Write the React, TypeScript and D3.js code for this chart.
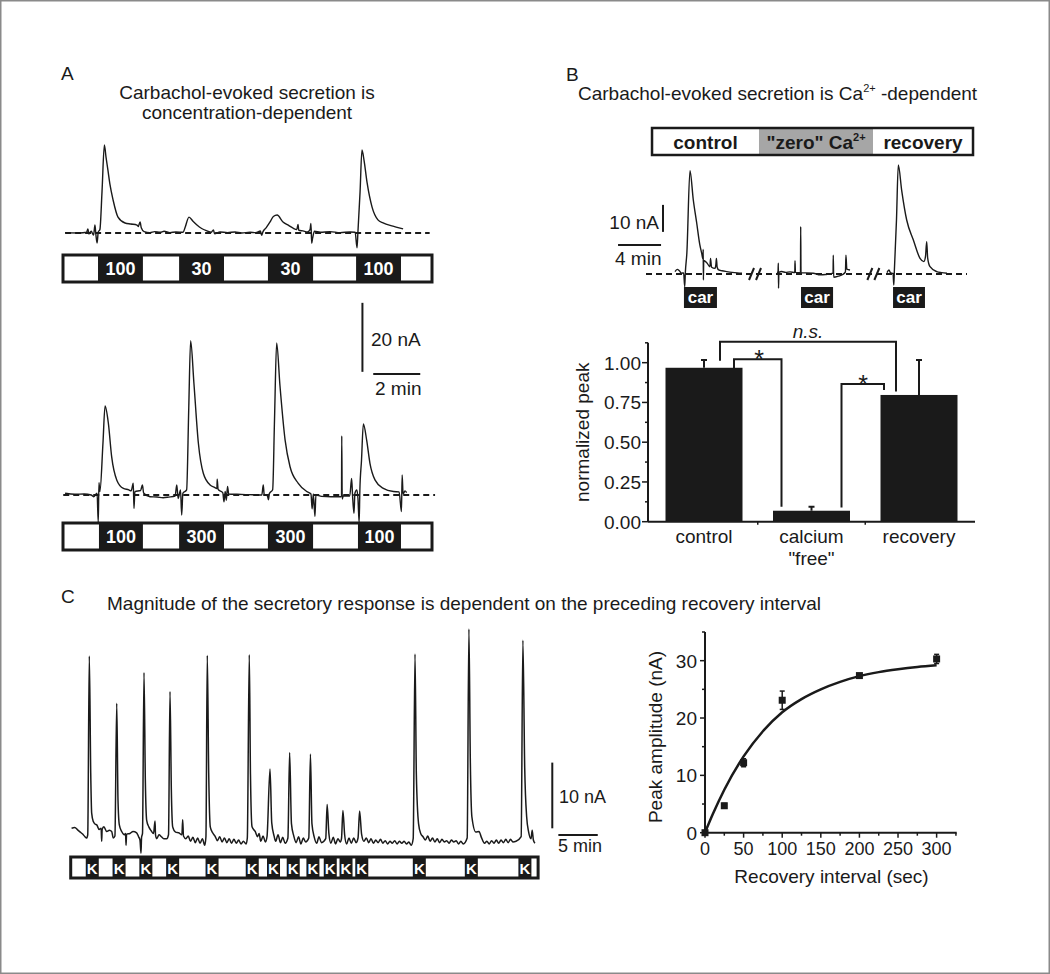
import React from 'react';
import * as d3 from 'd3';

const FONT = "'Liberation Sans', Arial, Helvetica, sans-serif";
const INK = '#1a1a1a';

// ---------------- Panel A data (time in min, current in nA) ----------------
const concTop = [
  { label: '100', start: 1.49, end: 3.4 },
  { label: '30', start: 4.94, end: 6.85 },
  { label: '30', start: 8.72, end: 10.64 },
  { label: '100', start: 12.47, end: 14.38 },
];
const concBottom = [
  { label: '100', start: 1.53, end: 3.4 },
  { label: '300', start: 4.94, end: 6.85 },
  { label: '300', start: 8.72, end: 10.64 },
  { label: '100', start: 12.55, end: 14.38 },
];
const traceATop: [number, number][] = [
  [0.09, 0.1], [0.7, 0.0], [1.0, 0.2], [1.06, 1.2], [1.1, -0.3], [1.2, 0.5], [1.3, -0.6], [1.36, 2.3], [1.4, -0.5],
  [1.45, -2.9], [1.5, 0.3], [1.57, 1.0], [1.66, 12], [1.76, 25.5], [1.83, 22], [1.91, 18.3], [2.0, 14], [2.13, 9.6],
  [2.34, 4.6], [2.64, 2.9], [2.89, 2.6], [3.15, 2.3], [3.2, 1.9], [3.28, 3.2], [3.33, 1.5], [3.45, 0.4], [3.7, 0.1],
  [3.9, 0.4], [4.13, 0.2], [4.3, 0.5], [4.55, 0.1], [4.8, 0.3], [5.11, 0.2], [5.19, 1.5], [5.36, 4.6], [5.53, 3.4],
  [5.7, 2.3], [5.9, 1.3], [6.13, 0.6], [6.3, 0.2], [6.4, 0.9], [6.45, -0.2], [6.68, 0.3], [7.0, 0.1], [7.32, 0.3],
  [7.6, 0.0], [7.96, 0.2], [8.2, 0.1], [8.4, 0.6], [8.45, -0.7], [8.51, 0.4], [8.64, 1.5], [8.81, 3.2], [8.95, 4.8],
  [9.11, 5.2], [9.36, 3.2], [9.6, 2.2], [9.79, 1.4], [9.95, 1.0], [10.0, 2.5], [10.03, 0.8], [10.21, 0.6], [10.4, 0.3],
  [10.51, 1.0], [10.55, 2.8], [10.58, -3.0], [10.62, -1.5], [10.7, 0.5], [10.94, 0.2], [11.36, 0.4], [11.79, 0.1],
  [12.21, 0.3], [12.43, 0.2], [12.51, -4.3], [12.55, 0.5], [12.64, 12], [12.72, 24.1], [12.81, 21], [12.94, 14.5],
  [13.15, 7.5], [13.4, 3.8], [13.62, 2.9], [14.04, 2.0], [14.3, 1.5], [14.47, 1.2],
];
const traceABottom: [number, number][] = [
  [0.09, 0.5], [0.5, 0.2], [0.9, 0.3], [1.2, 0.0], [1.3, -0.5], [1.45, 0.5], [1.5, -8.0], [1.53, 3.6], [1.57, 1.0],
  [1.7, 15], [1.79, 25.8], [1.93, 20.8], [2.07, 11.1], [2.29, 4.3], [2.57, 1.9], [2.8, 1.5], [2.9, 1.2], [2.99, 3.4],
  [3.02, -3.9], [3.06, 1.0], [3.3, 1.3], [3.38, 2.9], [3.43, 0.6], [3.7, -0.5], [4.0, -0.6], [4.26, -0.8], [4.5, -0.6],
  [4.77, -0.3], [4.84, 2.9], [4.9, -1.0], [5.0, 1.5], [5.05, -5.8], [5.1, 0.5], [5.26, 1.5], [5.35, 25], [5.43, 44.7],
  [5.57, 32.4], [5.76, 15.0], [5.97, 6.3], [6.26, 2.9], [6.45, 2.2], [6.55, 1.9], [6.56, 4.6], [6.6, 1.6], [6.8, 0.6],
  [6.85, -2.0], [6.9, 1.0], [6.95, -1.5], [7.0, 2.5], [7.05, 0.3], [7.4, 0.2], [7.9, 0.1], [8.46, 0.0], [8.52, 2.9],
  [8.56, 0.2], [8.7, -0.3], [8.74, -1.4], [8.78, 0.4], [8.92, 1.5], [9.0, 22], [9.09, 44.1], [9.23, 31.8], [9.45, 15.9],
  [9.66, 8.2], [10.01, 3.4], [10.37, 1.0], [10.55, 0.3], [10.6, -4.0], [10.65, 0.3], [10.72, -6.2], [10.76, 0.0],
  [11.0, -0.4], [11.4, -0.5], [11.8, -0.5], [11.85, -0.5], [11.86, 17.1], [11.88, -1.2], [11.92, -0.3], [12.2, -0.3],
  [12.28, 4.8], [12.32, -0.2], [12.38, -5.3], [12.42, 0.5], [12.5, 1.5], [12.55, -1.0], [12.6, -8.0], [12.63, 1.2],
  [12.7, 10], [12.78, 20.6], [12.92, 15.9], [13.06, 9.2], [13.28, 4.3], [13.63, 1.9], [14.06, 1.0], [14.3, 0.9],
  [14.4, -4.8], [14.43, 5.8], [14.47, 0.3], [14.55, 1.2], [14.62, 0.7],
];

// ---------------- Panel B data ----------------
const conditions = [
  { label: 'control', sup: '', start: 0.56, end: 10.51, fill: '#ffffff' },
  { label: '"zero" Ca', sup: '2+', start: 10.51, end: 21.12, fill: '#a6a6a6' },
  { label: 'recovery', sup: '', start: 21.12, end: 30.42, fill: '#ffffff' },
];
const carApplications = [
  { start: 3.53, end: 6.6 },
  { start: 14.42, end: 17.4 },
  { start: 22.98, end: 25.95 },
];
const traceBSegments: [number, number][][] = [
  [[2.7, 0.85], [2.9, 1.7], [3.1, 1.2], [3.3, 0.3], [3.5, 0.4], [3.6, -4.7], [3.66, 0.6], [3.8, 7.7], [4.09, 38.3],
   [4.4, 27.4], [4.72, 18.8], [5.0, 11], [5.18, 7.7], [5.3, 5.5], [5.32, 9.1], [5.34, -2.2], [5.37, 5.0], [5.65, 4.2],
   [5.95, 2.7], [6.0, 5.8], [6.1, 2.5], [6.42, 2.1], [6.5, 3.5], [6.55, 5.8], [6.62, 2.5], [6.76, 1.5], [7.07, 1.2],
   [7.5, 0.9], [8.0, 0.6], [8.5, 0.4], [8.93, 0.3]],
  [[12.19, 0.5], [12.28, 0.8], [12.31, 4.0], [12.33, -5.3], [12.36, 0.6], [12.62, 0.9], [13.0, 0.6], [13.4, 0.8],
   [13.84, 0.5], [13.86, 4.9], [13.9, 0.6], [14.37, 0.5], [14.39, 17.5], [14.42, 0.4], [14.9, 0.4], [15.56, 0.3],
   [16.2, -0.3], [16.7, -0.2], [17.4, 0.3], [17.42, 7.0], [17.46, -1.2], [17.9, -0.8], [18.3, -0.2], [18.55, 0.8],
   [18.6, 7.0], [18.68, 1.8], [18.98, 1.5]],
  [[22.42, 0.5], [22.6, 1.5], [22.75, 0.4], [22.98, 0.2], [23.05, -4.1], [23.1, 1.0], [23.3, 20], [23.47, 40.4],
   [23.78, 31.1], [24.25, 20.0], [24.87, 12.6], [25.49, 5.8], [25.85, 4.6], [26.0, 6.5], [26.11, 12.0], [26.2, 6],
   [26.42, 2.7], [27.04, 0.9], [27.5, 0.5], [28.0, 0.3]],
];
const breakTimes = [10.14, 21.15];

const barCategories = ['control', 'calcium "free"', 'recovery'];
const barValues = [0.968, 0.069, 0.797];
const barErrors = [0.049, 0.025, 0.22];
const barTicks = [0, 0.125, 0.25, 0.375, 0.5, 0.625, 0.75, 0.875, 1.0, 1.125];

// ---------------- Panel C data ----------------
const kStarts = [2.0, 5.4, 8.8, 12.2, 17.2, 22.3, 25.0, 27.5, 30.0, 32.2, 34.2, 36.2, 43.5, 50.1, 56.9];
const kDuration = 1.65;
const traceC: [number, number][] = [
  [0.2, 1.8], [0.6, 1.9], [1.0, 1.5], [1.3, 1.2], [1.6, 0.9], [1.9, 0.5], [2.1, 0.3],
  [2.25, 0.8], [2.45, 28.0], [2.63, 10.2], [2.75, 4.1], [2.96, 2.8], [3.2, 2.4], [3.39, 2.3], [3.7, 1.6], [3.95, 1.8],
  [4.02, -0.2], [4.08, 1.6], [4.3, 2.0], [4.66, 1.3], [5.0, 1.5], [5.29, 1.3], [5.49, 0.3],
  [5.7, 0.6], [5.93, 20.8], [6.09, 6.1], [6.26, 2.3], [6.56, 1.3], [6.9, 0.8], [7.05, 1.0], [7.11, -0.8], [7.18, 0.9],
  [7.6, 1.0], [8.0, 1.3], [8.46, 1.1], [8.7, 0.5], [8.88, 0], [9.01, -2.0], [9.08, 0.4],
  [9.2, 1.0], [9.39, 25.5], [9.56, 9.1], [9.73, 3.0], [10.0, 2.0], [10.3, 1.4], [10.6, 1.0], [10.79, 2.9], [10.85, 0.8],
  [11.0, 0.2], [11.3, 0.8], [11.6, 0.5], [11.9, 0.2], [12.27, 0.2],
  [12.5, 0.8], [12.69, 22.6], [12.86, 7.6], [13.03, 2.0], [13.4, 1.2], [13.8, 1.1], [14.2, 0.8], [14.3, 3.1], [14.4, 0.6],
  [14.7, 0.2], [15.0, 0.6], [15.3, -0.2], [15.6, 0.4], [15.9, -0.4], [16.2, 0.3], [16.5, -0.5], [16.8, 0.2], [17.1, -0.8],
  [17.25, 0.5], [17.42, 28.1], [17.6, 10.2], [17.8, 2.0], [18.1, 1.1], [18.4, 0.6], [18.7, -0.1], [19.0, 0.5], [19.3, -0.3],
  [19.6, 0.3], [19.9, -0.4], [20.2, 0.2], [20.5, -0.5], [20.8, 0.1], [21.1, -0.5], [21.4, 0.0], [21.7, -0.6], [22.0, -0.2],
  [22.35, -0.6],
  [22.5, 0.3], [22.75, 28.2], [22.9, 10.0], [23.1, 2.0], [23.5, 1.3], [23.8, 0.5], [24.0, 1.0], [24.2, -0.2], [24.5, 0.6],
  [24.8, -0.3],
  [25.0, 0.5], [25.38, 10.8], [25.6, 2.6], [25.9, 0.6], [26.1, -0.2], [26.4, 0.8], [26.7, -0.4], [27.0, 0.4], [27.3, -0.5],
  [27.65, 0.3], [27.87, 13.3], [28.1, 2.5], [28.4, 0.6], [28.7, -0.4], [29.0, 0.5], [29.3, -0.6], [29.6, 0.3], [29.9, -0.3],
  [30.3, 0.3], [30.51, 13.1], [30.7, 2.5], [31.0, 0.4], [31.3, -0.5], [31.6, 0.5], [31.9, -0.4],
  [32.45, 0.2], [32.63, 5.4], [32.85, 1.0], [33.1, -0.5], [33.4, 0.4], [33.7, -0.6], [34.0, 0.2], [34.3, -0.3],
  [34.45, 0.2], [34.63, 4.5], [34.85, 0.8], [35.1, -0.6], [35.4, 0.3], [35.7, -0.5], [36.0, 0.3], [36.3, -0.4],
  [36.55, 0.3], [36.75, 4.4], [37.0, 0.9], [37.3, -0.2], [37.6, 0.3], [37.9, -0.4], [38.2, 0.2], [38.5, -0.5], [38.8, 0.0],
  [39.1, -0.4], [39.4, 0.1], [39.7, -0.5], [40.0, -0.1], [40.3, -0.6], [40.6, -0.2], [40.9, -0.5], [41.2, -0.1],
  [41.5, -0.6], [41.8, -0.2], [42.1, -0.5], [42.4, -0.2], [42.7, -0.6], [43.0, -0.3], [43.3, -0.8],
  [43.55, 0.2], [43.78, 28.3], [43.95, 10.0], [44.23, 2.5], [44.5, 1.0], [44.8, 0.5], [45.1, 0.0], [45.4, 0.6],
  [45.7, -0.2], [46.0, 0.3], [46.3, -0.3], [46.6, 0.2], [46.9, -0.4], [47.2, 0.1], [47.5, -0.3], [47.8, -0.1],
  [48.1, -0.5], [48.4, 0.0], [48.7, -0.3], [49.0, -0.1], [49.3, -0.6], [49.6, -0.2], [49.9, -0.6],
  [50.4, 0.3], [50.62, 32.1], [50.8, 12.0], [51.0, 3.5], [51.5, 1.2], [51.9, 1.3], [52.2, 0.4], [52.6, -0.5],
  [52.9, -0.2], [53.2, -0.6], [53.5, -0.1], [53.8, -0.5], [54.1, 0.0], [54.4, -0.5], [54.7, 0.0], [55.0, -0.4],
  [55.3, 0.1], [55.6, -0.4], [55.9, 0.1], [56.2, -0.3], [56.6, -0.2],
  [57.25, 0.5], [57.47, 30.4], [57.7, 11.0], [57.95, 3.5], [58.2, 1.2], [58.5, 0.2], [58.65, 1.5], [58.8, 0.0], [59.0, -0.5],
];

const recoveryInterval = [0, 25, 50, 100, 200, 300];
const peakAmplitude = [0, 4.7, 12.2, 23.1, 27.4, 30.3];
const peakError = [0, 0.4, 0.7, 1.6, 0.3, 0.8];
const fitInterval = [0, 10, 25, 50, 75, 100, 125, 150, 175, 200, 225, 250, 275, 300];
const fitAmplitude = [0, 3.2, 7.5, 13.3, 17.7, 21.0, 23.3, 25.0, 26.3, 27.3, 28.0, 28.5, 28.9, 29.2];
const xTicksS = [0, 25, 50, 75, 100, 125, 150, 175, 200, 225, 250, 275, 300, 325];
const yTicksS = [0, 5, 10, 15, 20, 25, 30, 35];

export default function App() {
  // scales
  const xA = d3.scaleLinear().domain([0, 15.7]).range([63, 432]);
  const yATop = d3.scaleLinear().domain([0, 20]).range([233, 164]);
  const yABot = d3.scaleLinear().domain([0, 20]).range([495, 426]);

  const xB = d3.scaleLinear().domain([0, 29.86]).range([646, 967]);
  const yB = d3.scaleLinear().domain([0, 10]).range([274, 247]);

  const xBar = d3.scalePoint<string>().domain(barCategories).range([704, 919]);
  const yBar = d3.scaleLinear().domain([0, 1.125]).range([521.7, 342.8]);
  const barW = 77;

  const xC = d3.scaleLinear().domain([0, 59.26]).range([70, 537]);
  const yC = d3.scaleLinear().domain([0, 10]).range([840, 774.3]);

  const xS = d3.scaleLinear().domain([0, 326]).range([705, 956.7]);
  const yS = d3.scaleLinear().domain([0, 35]).range([832.7, 632]);

  const lineA = (ys: d3.ScaleLinear<number, number>) =>
    d3.line<[number, number]>().x((d) => xA(d[0])).y((d) => ys(d[1])).curve(d3.curveMonotoneX);
  const lineB = d3.line<[number, number]>().x((d) => xB(d[0])).y((d) => yB(d[1])).curve(d3.curveMonotoneX);
  const lineC = d3.line<[number, number]>().x((d) => xC(d[0])).y((d) => yC(d[1])).curve(d3.curveMonotoneX);
  const fitLine = d3
    .line<number>()
    .x((d) => xS(d))
    .y((_, i) => yS(fitAmplitude[i]))
    .curve(d3.curveMonotoneX);

  const stimBar = (
    blocks: { label: string; start: number; end: number }[],
    y0: number,
    y1: number,
    key: string
  ) => (
    <g key={key}>
      <rect x={xA(0)} y={y0} width={xA(15.7) - xA(0)} height={y1 - y0} fill="#fff" stroke={INK} strokeWidth={3} />
      {blocks.map((b, i) => (
        <g key={i}>
          <rect x={xA(b.start)} y={y0} width={xA(b.end) - xA(b.start)} height={y1 - y0} fill={INK} />
          <text
            x={(xA(b.start) + xA(b.end)) / 2}
            y={(y0 + y1) / 2 + 6.5}
            textAnchor="middle"
            fill="#fff"
            fontWeight="bold"
            fontSize={18}
          >
            {b.label}
          </text>
        </g>
      ))}
    </g>
  );

  const cx = barCategories.map((c) => xBar(c) as number);

  return (
    <div style={{ position: 'absolute', left: 0, top: 0 }}>
      <svg width={1050} height={974} style={{ display: 'block', fontFamily: FONT }}>
        <rect x={0} y={0} width={1050} height={974} fill="#fff" />
        <rect x={0.75} y={0.75} width={1048.5} height={972.5} fill="none" stroke="#8a8a8a" strokeWidth={1.5} />

        {/* ================= Panel A ================= */}
        <text x={61} y={80} fontSize={19} fill={INK}>A</text>
        <text x={247} y={99} fontSize={19} textAnchor="middle" fill={INK}>Carbachol-evoked secretion is</text>
        <text x={247} y={119} fontSize={19} textAnchor="middle" fill={INK}>concentration-dependent</text>

        <line x1={xA(0.09)} x2={xA(15.6)} y1={yATop(0)} y2={yATop(0)} stroke={INK} strokeWidth={2} strokeDasharray="6,4" />
        <path d={lineA(yATop)(traceATop) || ''} fill="none" stroke={INK} strokeWidth={1.4} strokeLinejoin="round" />
        {stimBar(concTop, 255, 282, 'top')}

        <line x1={xA(0.01)} x2={xA(15.83)} y1={yABot(0)} y2={yABot(0)} stroke={INK} strokeWidth={2} strokeDasharray="6,4" />
        <path d={lineA(yABot)(traceABottom) || ''} fill="none" stroke={INK} strokeWidth={1.4} strokeLinejoin="round" />
        {stimBar(concBottom, 523, 550, 'bot')}

        {/* scale bar A */}
        <line x1={xA(12.74)} x2={xA(12.74)} y1={yABot(35.7)} y2={yABot(55.7)} stroke={INK} strokeWidth={2} />
        <line x1={xA(13.2)} x2={xA(15.2)} y1={yABot(35.1)} y2={yABot(35.1)} stroke={INK} strokeWidth={2} />
        <text x={371} y={346} fontSize={19} fill={INK}>20 nA</text>
        <text x={375} y={395} fontSize={19} fill={INK}>2 min</text>

        {/* ================= Panel B ================= */}
        <text x={566} y={81} fontSize={19} fill={INK}>B</text>
        <text x={578} y={100} fontSize={19} fill={INK}>
          Carbachol-evoked secretion is Ca<tspan dy={-8} fontSize={11}>2+</tspan>
          <tspan dy={8}> -dependent</tspan>
        </text>

        {conditions.map((c, i) => (
          <g key={i}>
            <rect x={xB(c.start)} y={128} width={xB(c.end) - xB(c.start)} height={27} fill={c.fill} />
            <text x={(xB(c.start) + xB(c.end)) / 2} y={148.5} textAnchor="middle" fontWeight="bold" fontSize={19} fill={INK}>
              {c.label}
              {c.sup ? <tspan dy={-8} fontSize={11}>{c.sup}</tspan> : null}
            </text>
          </g>
        ))}
        <rect
          x={xB(conditions[0].start)}
          y={128}
          width={xB(conditions[2].end) - xB(conditions[0].start)}
          height={27}
          fill="none"
          stroke={INK}
          strokeWidth={2.5}
        />

        <line x1={xB(0)} x2={xB(29.86)} y1={yB(0)} y2={yB(0)} stroke={INK} strokeWidth={2} strokeDasharray="6,4" />
        {traceBSegments.map((seg, i) => (
          <path key={i} d={lineB(seg) || ''} fill="none" stroke={INK} strokeWidth={1.4} strokeLinejoin="round" />
        ))}
        {breakTimes.map((t, i) => (
          <g key={i}>
            <line x1={xB(t) - 6} x2={xB(t) - 1} y1={yB(0) + 6} y2={yB(0) - 6} stroke={INK} strokeWidth={2} />
            <line x1={xB(t) + 1} x2={xB(t) + 6} y1={yB(0) + 6} y2={yB(0) - 6} stroke={INK} strokeWidth={2} />
          </g>
        ))}
        {carApplications.map((c, i) => (
          <g key={i}>
            <rect x={xB(c.start)} y={287} width={xB(c.end) - xB(c.start)} height={21} fill={INK} />
            <text x={(xB(c.start) + xB(c.end)) / 2} y={303} textAnchor="middle" fill="#fff" fontWeight="bold" fontSize={17}>
              car
            </text>
          </g>
        ))}
        {/* scale bar B */}
        <line x1={xB(1.58)} x2={xB(1.58)} y1={yB(15.6)} y2={yB(25.6)} stroke={INK} strokeWidth={2} />
        <line x1={xB(-2.6)} x2={xB(1.4)} y1={yB(10.7)} y2={yB(10.7)} stroke={INK} strokeWidth={2} />
        <text x={659} y={229} fontSize={19} textAnchor="end" fill={INK}>10 nA</text>
        <text x={615} y={265} fontSize={19} fill={INK}>4 min</text>

        {/* bar chart */}
        {barCategories.map((c, i) => (
          <g key={c}>
            <line
              x1={cx[i]}
              x2={cx[i]}
              y1={yBar(barValues[i])}
              y2={yBar(barValues[i] + barErrors[i])}
              stroke={INK}
              strokeWidth={2}
            />
            <line
              x1={cx[i] - 3}
              x2={cx[i] + 3}
              y1={yBar(barValues[i] + barErrors[i])}
              y2={yBar(barValues[i] + barErrors[i])}
              stroke={INK}
              strokeWidth={2}
            />
            <rect x={cx[i] - barW / 2} y={yBar(barValues[i])} width={barW} height={yBar(0) - yBar(barValues[i])} fill={INK} />
          </g>
        ))}
        <line x1={648} x2={648} y1={yBar(0)} y2={yBar(1.125)} stroke={INK} strokeWidth={2} />
        <line x1={648} x2={975} y1={yBar(0)} y2={yBar(0)} stroke={INK} strokeWidth={2} />
        {barTicks.map((t, i) => (
          <g key={i}>
            <line x1={648} x2={i % 2 === 0 ? 642 : 645} y1={yBar(t)} y2={yBar(t)} stroke={INK} strokeWidth={1.5} />
            {i % 2 === 0 ? (
              <text x={641} y={yBar(t)} dy="0.36em" textAnchor="end" fontSize={19} fill={INK}>
                {d3.format('.2f')(t)}
              </text>
            ) : null}
          </g>
        ))}
        {[0, 1].map((i) => {
          const mx = (cx[i] + cx[i + 1]) / 2;
          return <line key={i} x1={mx} x2={mx} y1={yBar(0)} y2={yBar(0) + 3} stroke={INK} strokeWidth={1.5} />;
        })}
        <text x={cx[0]} y={543} textAnchor="middle" fontSize={19} fill={INK}>control</text>
        <text x={cx[1]} y={543} textAnchor="middle" fontSize={19} fill={INK}>calcium</text>
        <text x={cx[1]} y={565} textAnchor="middle" fontSize={19} fill={INK}>"free"</text>
        <text x={cx[2]} y={543} textAnchor="middle" fontSize={19} fill={INK}>recovery</text>
        <text transform={`translate(589,${(yBar(0) + yBar(1.125)) / 2 + 0}) rotate(-90)`} textAnchor="middle" fontSize={19} fill={INK}>
          normalized peak
        </text>

        {/* significance brackets */}
        <path
          d={`M${cx[0] + 16},${yBar(1.012)}V${yBar(1.132)}H${cx[2] - 23}V${yBar(0.818)}`}
          fill="none"
          stroke={INK}
          strokeWidth={2}
        />
        <text x={808} y={338} textAnchor="middle" fontStyle="italic" fontSize={19} fill={INK}>n.s.</text>
        <path
          d={`M${cx[0] + 30},${yBar(0.965)}V${yBar(1.021)}H${cx[1] - 30}V${yBar(0.094)}`}
          fill="none"
          stroke={INK}
          strokeWidth={2}
        />
        <text x={759} y={368} textAnchor="middle" fontSize={25} fill={INK}>*</text>
        <path
          d={`M${cx[1] + 30},${yBar(0.09)}V${yBar(0.866)}H${cx[2] - 35}V${yBar(0.828)}`}
          fill="none"
          stroke={INK}
          strokeWidth={2}
        />
        <text x={863} y={393} textAnchor="middle" fontSize={25} fill={INK}>*</text>

        {/* ================= Panel C ================= */}
        <text x={61} y={603} fontSize={19} fill={INK}>C</text>
        <text x={107} y={610} fontSize={19} fill={INK}>
          Magnitude of the secretory response is dependent on the preceding recovery interval
        </text>

        <path d={lineC(traceC) || ''} fill="none" stroke={INK} strokeWidth={1.5} strokeLinejoin="round" />
        <rect x={xC(0.09)} y={857} width={xC(59.4) - xC(0.09)} height={21} fill="#fff" stroke={INK} strokeWidth={3} />
        {kStarts.map((s, i) => (
          <g key={i}>
            <rect x={xC(s)} y={857} width={xC(s + kDuration) - xC(s)} height={21} fill={INK} />
            <text x={(xC(s) + xC(s + kDuration)) / 2} y={873.5} textAnchor="middle" fill="#fff" fontWeight="bold" fontSize={15}>
              K
            </text>
          </g>
        ))}
        {/* scale bar C */}
        <line x1={xC(61.2)} x2={xC(61.2)} y1={yC(1.78)} y2={yC(11.78)} stroke={INK} strokeWidth={2} />
        <line x1={xC(61.97)} x2={xC(66.97)} y1={yC(0.76)} y2={yC(0.76)} stroke={INK} strokeWidth={2} />
        <text x={559} y={803} fontSize={18} fill={INK}>10 nA</text>
        <text x={558} y={852} fontSize={18} fill={INK}>5 min</text>

        {/* scatter */}
        <line x1={xS(0)} x2={xS(326)} y1={yS(0)} y2={yS(0)} stroke={INK} strokeWidth={2} />
        <line x1={xS(0)} x2={xS(0)} y1={yS(0)} y2={yS(35)} stroke={INK} strokeWidth={2} />
        {xTicksS.map((t, i) => (
          <g key={i}>
            <line x1={xS(t)} x2={xS(t)} y1={yS(0)} y2={yS(0) + (t % 50 === 0 ? 5 : 3)} stroke={INK} strokeWidth={1.5} />
            {t % 50 === 0 && t <= 300 ? (
              <text x={xS(t)} y={855} textAnchor="middle" fontSize={18} fill={INK}>{t}</text>
            ) : null}
          </g>
        ))}
        {yTicksS.map((t, i) => (
          <g key={i}>
            <line x1={xS(0)} x2={xS(0) - (t % 10 === 0 ? 5 : 3)} y1={yS(t)} y2={yS(t)} stroke={INK} strokeWidth={1.5} />
            {t % 10 === 0 && t <= 30 ? (
              <text x={697} y={yS(t)} dy="0.36em" textAnchor="end" fontSize={19} fill={INK}>{t}</text>
            ) : null}
          </g>
        ))}
        <path d={fitLine(fitInterval) || ''} fill="none" stroke={INK} strokeWidth={2.5} />
        {recoveryInterval.map((r, i) => (
          <g key={i}>
            {peakError[i] > 0 ? (
              <g>
                <line x1={xS(r)} x2={xS(r)} y1={yS(peakAmplitude[i] - peakError[i])} y2={yS(peakAmplitude[i] + peakError[i])} stroke={INK} strokeWidth={1.5} />
                <line x1={xS(r) - 2.5} x2={xS(r) + 2.5} y1={yS(peakAmplitude[i] + peakError[i])} y2={yS(peakAmplitude[i] + peakError[i])} stroke={INK} strokeWidth={1.5} />
                <line x1={xS(r) - 2.5} x2={xS(r) + 2.5} y1={yS(peakAmplitude[i] - peakError[i])} y2={yS(peakAmplitude[i] - peakError[i])} stroke={INK} strokeWidth={1.5} />
              </g>
            ) : null}
            <rect x={xS(r) - 3.5} y={yS(peakAmplitude[i]) - 3.5} width={7} height={7} fill={INK} />
          </g>
        ))}
        <text x={831.5} y={883} textAnchor="middle" fontSize={19} fill={INK}>Recovery interval (sec)</text>
        <text transform={`translate(662,737) rotate(-90)`} textAnchor="middle" fontSize={19} fill={INK}>
          Peak amplitude (nA)
        </text>
      </svg>
    </div>
  );
}
